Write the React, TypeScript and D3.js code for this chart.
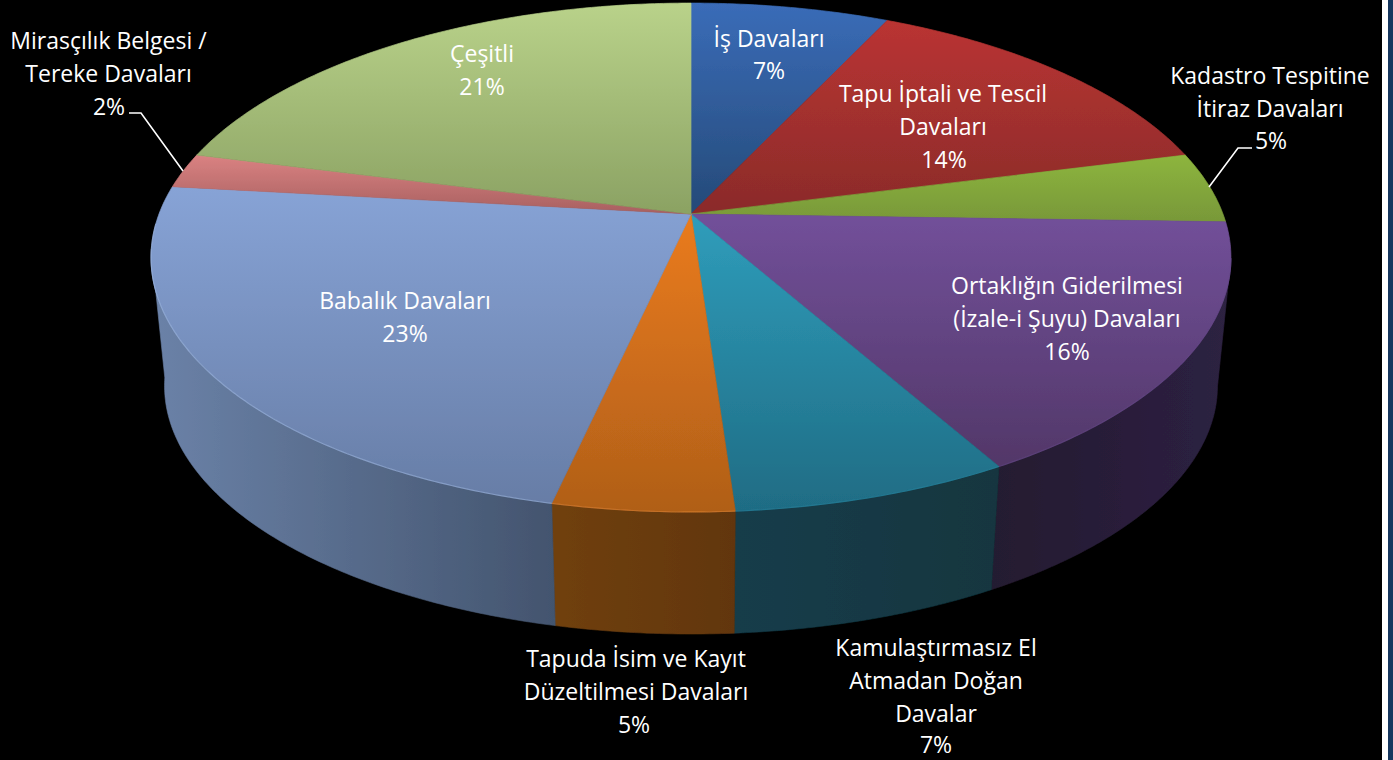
import React from "react";
import * as d3 from "d3";

const categories = [
  "İş Davaları",
  "Tapu İptali ve Tescil Davaları",
  "Kadastro Tespitine İtiraz Davaları",
  "Ortaklığın Giderilmesi (İzale-i Şuyu) Davaları",
  "Kamulaştırmasız El Atmadan Doğan Davalar",
  "Tapuda İsim ve Kayıt Düzeltilmesi Davaları",
  "Babalık Davaları",
  "Mirasçılık Belgesi / Tereke Davaları",
  "Çeşitli",
];
const values = [7.0, 14.0, 4.5, 16.3, 7.1, 4.6, 23.3, 2.2, 21.0];

const labelLines = [
  ["İş Davaları"],
  ["Tapu İptali ve Tescil", "Davaları"],
  ["Kadastro Tespitine", "İtiraz Davaları"],
  ["Ortaklığın Giderilmesi", "(İzale-i Şuyu) Davaları"],
  ["Kamulaştırmasız El", "Atmadan Doğan", "Davalar"],
  ["Tapuda İsim ve Kayıt", "Düzeltilmesi Davaları"],
  ["Babalık Davaları"],
  ["Mirasçılık Belgesi /", "Tereke Davaları"],
  ["Çeşitli"],
];

// style & layout (not data)
const topColors = [
  ["#3a6cb8", "#254a78"],
  ["#ba3432", "#8a2b2a"],
  ["#8db53d", "#789839"],
  ["#72509a", "#523768"],
  ["#2f9dbb", "#1f6c84"],
  ["#ea7b1e", "#b05f18"],
  ["#87a3d6", "#677da6"],
  ["#da8282", "#a86060"],
  ["#b9d28a", "#8ba263"],
];
const wallColors = [
  ["#000", "#000"],
  ["#000", "#000"],
  ["#000", "#000"],
  ["#241a30", "#2d2142"],
  ["#143c4a", "#12363f"],
  ["#70400f", "#62360c"],
  ["#6b82a8", "#43546e"],
  ["#000", "#000"],
  ["#000", "#000"],
];
const rimColors = ["#000", "#000", "#000", "#6a4c90", "#2a8aa5", "#e88a3a", "#a8c2ec", "#000", "#000"];
const labelAnchors = [
  [[769, 39]],
  [[943, 94], [943, 127]],
  [[1270, 76], [1270, 109]],
  [[1067, 286], [1067, 319]],
  [[936, 648], [936, 681], [936, 714]],
  [[636, 659], [636, 692]],
  [[405, 301]],
  [[108.5, 41], [108.5, 74]],
  [[482, 54]],
];
const pctAnchors = [
  [769, 71], [944, 160], [1271, 141], [1067, 352], [936, 745], [634, 725], [405, 334], [109, 107], [482, 87],
];
const leaders = [
  [[129, 113], [141, 113], [183, 171]],
  [[1209, 187], [1238, 148], [1252, 148]],
];

const W = 1393, H = 760;
const cx = 691, cy = 214, R = 532, Hz = 247, k = 0.171;
const depth = 129.5, shrink = 0.975;
const VIS0 = (100 * Math.PI) / 180, VIS1 = (262 * Math.PI) / 180;

const project = (t: number): [number, number] => {
  const w = 1 + k * Math.cos(t);
  return [cx + (R * Math.sin(t)) / w, cy - (Hz * Math.cos(t)) / w];
};
const projectLow = (t: number): [number, number] => {
  const [x, y] = project(t);
  return [cx + (x - cx) * shrink, cy + depth + (y - cy) * shrink];
};
const sample = (a: number, b: number, f: (t: number) => [number, number]) => {
  const n = Math.max(2, Math.ceil((b - a) / 0.01));
  return d3.range(n + 1).map((i) => f(a + ((b - a) * i) / n));
};
const line = d3.line();

const arcs = d3.pie<number>().sort(null).value((d) => d)(values);

export default function App() {
  return (
    <svg width={W} height={H} viewBox={`0 0 ${W} ${H}`} style={{ position: "absolute", left: 0, top: 0, display: "block" }}>
      <defs>
        <filter id="soft" x="-5%" y="-5%" width="110%" height="110%">
          <feGaussianBlur stdDeviation="0.7" />
        </filter>
        {arcs.map((a, i) => (
          <linearGradient key={i} id={`top${i}`} x1="0" y1="0" x2="0" y2="1">
            <stop offset="0" stopColor={topColors[i][0]} />
            <stop offset="1" stopColor={topColors[i][1]} />
          </linearGradient>
        ))}
        {arcs.map((a, i) => (
          <linearGradient key={i} id={`wall${i}`} x1="0" y1="0" x2="1" y2="0">
            <stop offset="0" stopColor={wallColors[i][0]} />
            <stop offset="1" stopColor={wallColors[i][1]} />
          </linearGradient>
        ))}
      </defs>
      <rect width={W} height={H} fill="#000" />
      <rect x={1382} width={6} height={H} fill="#fff" />
      <rect x={1388} width={5} height={H} fill="#17375e" />
      <g filter="url(#soft)">
        {arcs.map((a, i) => {
          const s = Math.max(a.startAngle, VIS0), e = Math.min(a.endAngle, VIS1);
          if (e <= s) return null;
          const pts = [...sample(s, e, project), ...sample(s, e, projectLow).reverse()];
          return <path key={i} d={line(pts) + "Z"} fill={`url(#wall${i})`} stroke={`url(#wall${i})`} strokeWidth={0.6} />;
        })}
        {arcs.map((a, i) => {
          const pts = [[cx, cy] as [number, number], ...sample(a.startAngle, a.endAngle, project)];
          return <path key={i} d={line(pts) + "Z"} fill={`url(#top${i})`} stroke={`url(#top${i})`} strokeWidth={0.7} strokeLinejoin="round" />;
        })}
        {arcs.map((a, i) => {
          const s = Math.max(a.startAngle, VIS0), e = Math.min(a.endAngle, VIS1 + 0.1);
          if (e <= s) return null;
          return <path key={i} d={line(sample(s, e, project))!} fill="none" stroke={rimColors[i]} strokeWidth={1.2} strokeOpacity={0.5} />;
        })}
      </g>
      {leaders.map((l, i) => (
        <path key={i} d={line(l as [number, number][])!} fill="none" stroke="#fff" strokeWidth={1.6} />
      ))}
      <g fontFamily="'Open Sans', sans-serif" fontSize={23} fill="#fff" textAnchor="middle">
        {labelLines.map((ls, i) =>
          ls.map((t, j) => (
            <text key={`${i}-${j}`} x={labelAnchors[i][j][0]} y={labelAnchors[i][j][1] + 8}>{t}</text>
          ))
        )}
        {arcs.map((a, i) => (
          <text key={i} x={pctAnchors[i][0]} y={pctAnchors[i][1] + 8}>{Math.round(a.value)}%</text>
        ))}
      </g>
    </svg>
  );
}
